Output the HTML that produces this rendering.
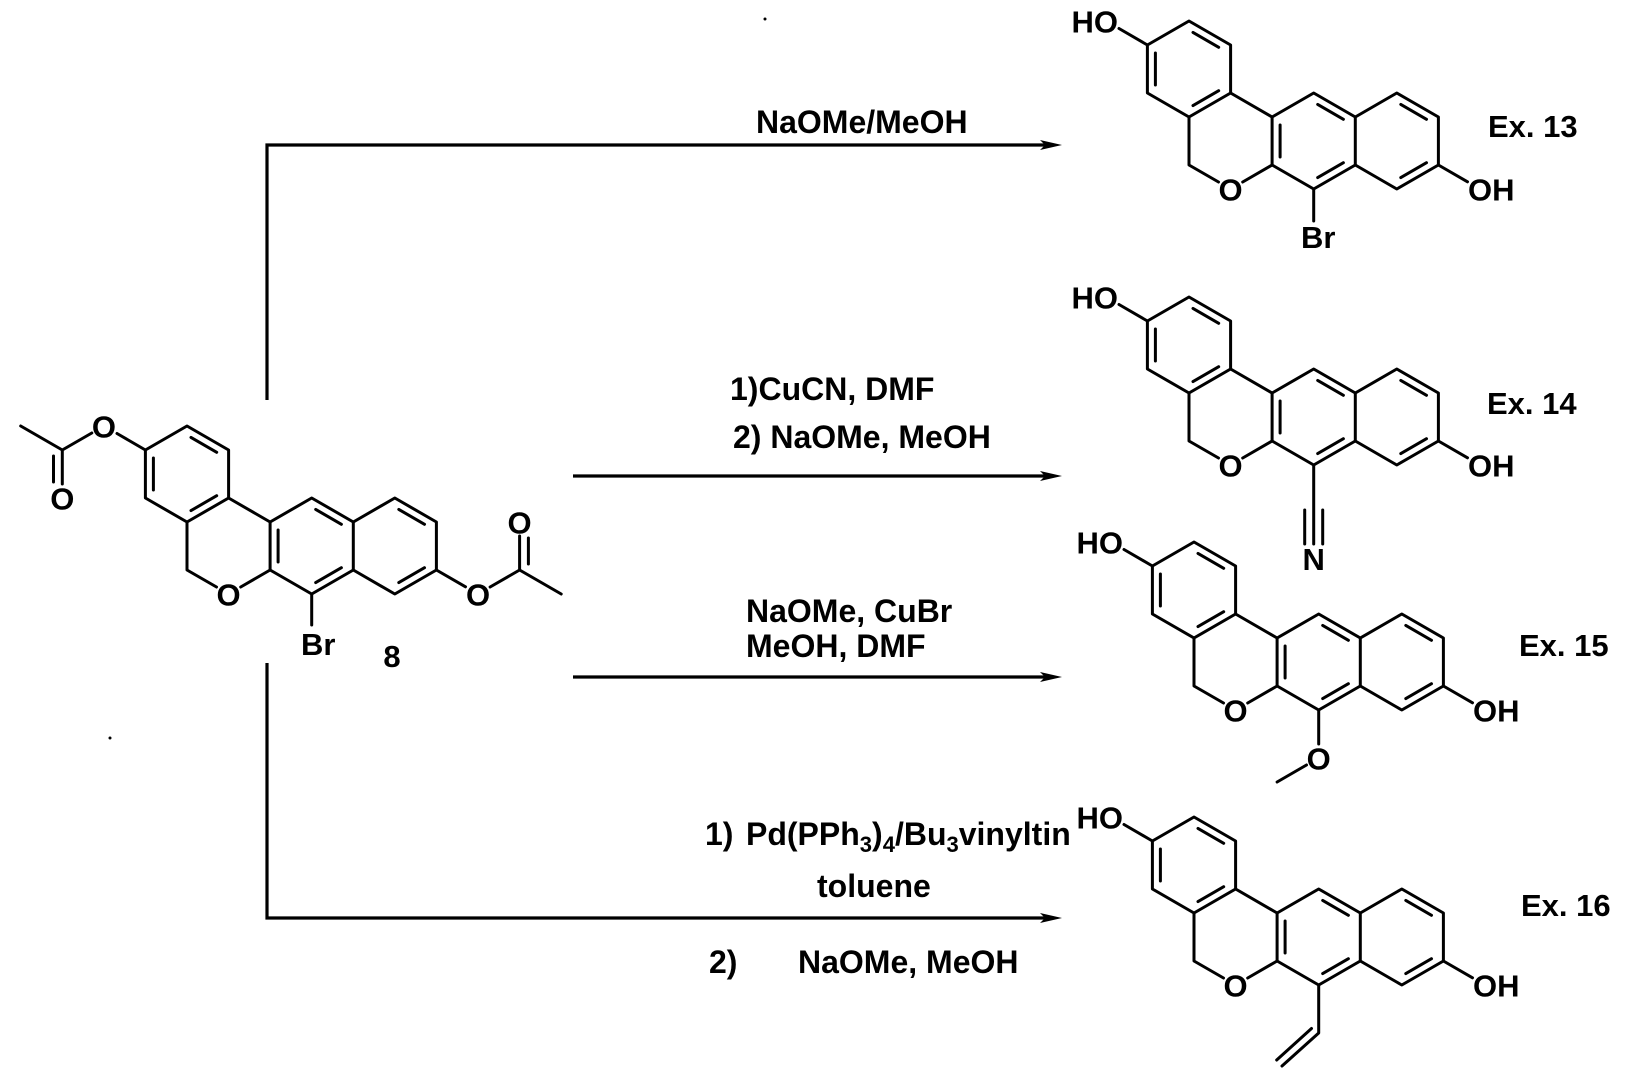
<!DOCTYPE html>
<html>
<head>
<meta charset="utf-8">
<style>
  html, body { margin:0; padding:0; background:#fff; }
  body { width:1625px; height:1079px; overflow:hidden; }
  svg { display:block; }
  text { font-family: "Liberation Sans", Arial, sans-serif; font-weight: bold; fill:#000; }
  .lbl { font-size: 31px; }
  .rg { font-size: 32px; }
  .b { fill:none; stroke:#000; stroke-width:3; stroke-linecap:round; stroke-linejoin:round; }
  .ar { fill:none; stroke:#000; stroke-width:3.2; stroke-linecap:butt; stroke-linejoin:miter; }
</style>
</head>
<body>
<svg width="1625" height="1079" viewBox="0 0 1625 1079" xmlns="http://www.w3.org/2000/svg">

  <!-- ===== Arrows ===== -->
  <path class="ar" d="M267,400 V145 H1045"/>
  <polygon points="1062,145 1040,140 1045,145 1040,150" fill="#000"/>

  <path class="ar" d="M573,476 H1045"/>
  <polygon points="1062,476 1040,471 1045,476 1040,481" fill="#000"/>

  <path class="ar" d="M573,677 H1045"/>
  <polygon points="1062,677 1040,672 1045,677 1040,682" fill="#000"/>

  <path class="ar" d="M267,663 V918 H1045"/>
  <polygon points="1062,918 1040,913 1045,918 1040,923" fill="#000"/>

  <!-- stray dots -->
  <circle cx="765" cy="19" r="1.5" fill="#000"/>
  <circle cx="110" cy="738" r="1.5" fill="#000"/>

  <!-- ===== Reagents ===== -->
  <text class="rg" x="756" y="133">NaOMe/MeOH</text>

  <text class="rg" x="730" y="400">1)CuCN, DMF</text>
  <text class="rg" x="733" y="448">2) NaOMe, MeOH</text>

  <text class="rg" x="746" y="622">NaOMe, CuBr</text>
  <text class="rg" x="746" y="657">MeOH, DMF</text>

  <text class="rg" x="705" y="845">1)</text>
  <text class="rg" x="746" y="845">Pd(PPh<tspan font-size="22" dy="7">3</tspan><tspan dy="-7">)</tspan><tspan font-size="22" dy="7">4</tspan><tspan dy="-7">/Bu</tspan><tspan font-size="22" dy="7">3</tspan><tspan dy="-7">vinyltin</tspan></text>
  <text class="rg" x="817" y="897">toluene</text>
  <text class="rg" x="709" y="973">2)</text>
  <text class="rg" x="798" y="973">NaOMe, MeOH</text>

  <!-- ===== Starting material 8 ===== -->
  <g transform="translate(187,474)">
    <path class="b" d="M0,-48 L41.6,-24 L41.6,24 L0,48 L-41.6,24 L-41.6,-24 Z"/>
    <path class="b" d="M0,48 L0,96 L29.5,113 M53.7,113 L83.1,96 L83.1,48 L41.6,24"/>
    <path class="b" d="M83.1,48 L124.7,24 L166.3,48 L166.3,96 L124.7,120 L83.1,96"/>
    <path class="b" d="M166.3,48 L207.8,24 L249.4,48 L249.4,96 L207.8,120 L166.3,96"/>
    <path class="b" d="M-33.6,-16 L-33.6,16 M4,-36.6 L29.7,-21.7 M29.7,21.7 L4,36.6 M91.1,56 L91.1,88 M128.7,35.4 L154.4,50.3 M154.4,93.7 L128.7,108.6 M211.8,35.4 L237.5,50.3 M237.5,93.7 L211.8,108.6"/>
    <!-- left acetate -->
    <path class="b" d="M-41.6,-24 L-70,-40.5 M-95.2,-41 L-124.7,-24 L-166.3,-48 M-124.7,-24 L-124.7,10 M-133.5,-18 L-133.5,8"/>
    <text class="lbl" x="-83.1" y="-36.7" text-anchor="middle">O</text>
    <text class="lbl" x="-124.7" y="35.3" text-anchor="middle">O</text>
    <!-- right acetate -->
    <path class="b" d="M249.4,96 L278.5,112.8 M303.1,113 L332.6,96 L374.2,120 M332.6,96 L332.6,62 M341.4,90 L341.4,64"/>
    <text class="lbl" x="291" y="131.3" text-anchor="middle">O</text>
    <text class="lbl" x="332.6" y="59.3" text-anchor="middle">O</text>
    <!-- pyran O -->
    <text class="lbl" x="41.6" y="131.3" text-anchor="middle">O</text>
    <!-- Br -->
    <path class="b" d="M124.7,120 L124.7,151"/>
    <text class="lbl" x="114" y="181">Br</text>
  </g>
  <text class="lbl" x="392" y="667" text-anchor="middle">8</text>

  <!-- ===== Ex. 13 ===== -->
  <g transform="translate(1189,69)">
    <path class="b" d="M0,-48 L41.6,-24 L41.6,24 L0,48 L-41.6,24 L-41.6,-24 Z"/>
    <path class="b" d="M0,48 L0,96 L29.5,113 M53.7,113 L83.1,96 L83.1,48 L41.6,24"/>
    <path class="b" d="M83.1,48 L124.7,24 L166.3,48 L166.3,96 L124.7,120 L83.1,96"/>
    <path class="b" d="M166.3,48 L207.8,24 L249.4,48 L249.4,96 L207.8,120 L166.3,96"/>
    <path class="b" d="M-33.6,-16 L-33.6,16 M4,-36.6 L29.7,-21.7 M29.7,21.7 L4,36.6 M91.1,56 L91.1,88 M128.7,35.4 L154.4,50.3 M154.4,93.7 L128.7,108.6 M211.8,35.4 L237.5,50.3 M237.5,93.7 L211.8,108.6"/>
    <path class="b" d="M-41.6,-24 L-70,-40.5 M249.4,96 L278.5,112.8"/>
    <text class="lbl" x="-71" y="-36.7" text-anchor="end">HO</text>
    <text class="lbl" x="279" y="131.3">OH</text>
    <text class="lbl" x="41.6" y="131.3" text-anchor="middle">O</text>
    <path class="b" d="M124.7,120 L124.7,152"/>
    <text class="lbl" x="112" y="179">Br</text>
  </g>
  <text class="lbl" x="1488" y="137">Ex. 13</text>

  <!-- ===== Ex. 14 ===== -->
  <g transform="translate(1189,345)">
    <path class="b" d="M0,-48 L41.6,-24 L41.6,24 L0,48 L-41.6,24 L-41.6,-24 Z"/>
    <path class="b" d="M0,48 L0,96 L29.5,113 M53.7,113 L83.1,96 L83.1,48 L41.6,24"/>
    <path class="b" d="M83.1,48 L124.7,24 L166.3,48 L166.3,96 L124.7,120 L83.1,96"/>
    <path class="b" d="M166.3,48 L207.8,24 L249.4,48 L249.4,96 L207.8,120 L166.3,96"/>
    <path class="b" d="M-33.6,-16 L-33.6,16 M4,-36.6 L29.7,-21.7 M29.7,21.7 L4,36.6 M91.1,56 L91.1,88 M128.7,35.4 L154.4,50.3 M154.4,93.7 L128.7,108.6 M211.8,35.4 L237.5,50.3 M237.5,93.7 L211.8,108.6"/>
    <path class="b" d="M-41.6,-24 L-70,-40.5 M249.4,96 L278.5,112.8"/>
    <text class="lbl" x="-71" y="-36.7" text-anchor="end">HO</text>
    <text class="lbl" x="279" y="131.3">OH</text>
    <text class="lbl" x="41.6" y="131.3" text-anchor="middle">O</text>
    <path class="b" d="M124.7,120 L124.7,199 M115.7,165 L115.7,199 M133.7,165 L133.7,199"/>
    <text class="lbl" x="124.7" y="225" text-anchor="middle">N</text>
  </g>
  <text class="lbl" x="1487" y="414">Ex. 14</text>

  <!-- ===== Ex. 15 ===== -->
  <g transform="translate(1194,590)">
    <path class="b" d="M0,-48 L41.6,-24 L41.6,24 L0,48 L-41.6,24 L-41.6,-24 Z"/>
    <path class="b" d="M0,48 L0,96 L29.5,113 M53.7,113 L83.1,96 L83.1,48 L41.6,24"/>
    <path class="b" d="M83.1,48 L124.7,24 L166.3,48 L166.3,96 L124.7,120 L83.1,96"/>
    <path class="b" d="M166.3,48 L207.8,24 L249.4,48 L249.4,96 L207.8,120 L166.3,96"/>
    <path class="b" d="M-33.6,-16 L-33.6,16 M4,-36.6 L29.7,-21.7 M29.7,21.7 L4,36.6 M91.1,56 L91.1,88 M128.7,35.4 L154.4,50.3 M154.4,93.7 L128.7,108.6 M211.8,35.4 L237.5,50.3 M237.5,93.7 L211.8,108.6"/>
    <path class="b" d="M-41.6,-24 L-70,-40.5 M249.4,96 L278.5,112.8"/>
    <text class="lbl" x="-71" y="-36.7" text-anchor="end">HO</text>
    <text class="lbl" x="279" y="131.3">OH</text>
    <text class="lbl" x="41.6" y="131.3" text-anchor="middle">O</text>
    <path class="b" d="M124.7,120 L124.7,154 M112.5,175 L83.1,192"/>
    <text class="lbl" x="124.7" y="179.3" text-anchor="middle">O</text>
  </g>
  <text class="lbl" x="1519" y="656">Ex. 15</text>

  <!-- ===== Ex. 16 ===== -->
  <g transform="translate(1194,865)">
    <path class="b" d="M0,-48 L41.6,-24 L41.6,24 L0,48 L-41.6,24 L-41.6,-24 Z"/>
    <path class="b" d="M0,48 L0,96 L29.5,113 M53.7,113 L83.1,96 L83.1,48 L41.6,24"/>
    <path class="b" d="M83.1,48 L124.7,24 L166.3,48 L166.3,96 L124.7,120 L83.1,96"/>
    <path class="b" d="M166.3,48 L207.8,24 L249.4,48 L249.4,96 L207.8,120 L166.3,96"/>
    <path class="b" d="M-33.6,-16 L-33.6,16 M4,-36.6 L29.7,-21.7 M29.7,21.7 L4,36.6 M91.1,56 L91.1,88 M128.7,35.4 L154.4,50.3 M154.4,93.7 L128.7,108.6 M211.8,35.4 L237.5,50.3 M237.5,93.7 L211.8,108.6"/>
    <path class="b" d="M-41.6,-24 L-70,-40.5 M249.4,96 L278.5,112.8"/>
    <text class="lbl" x="-71" y="-36.7" text-anchor="end">HO</text>
    <text class="lbl" x="279" y="131.3">OH</text>
    <text class="lbl" x="41.6" y="131.3" text-anchor="middle">O</text>
    <path class="b" d="M124.7,120 L124.7,168 L88,201 M117.5,163.5 L82.7,195"/>
  </g>
  <text class="lbl" x="1521" y="916">Ex. 16</text>

</svg>
</body>
</html>
